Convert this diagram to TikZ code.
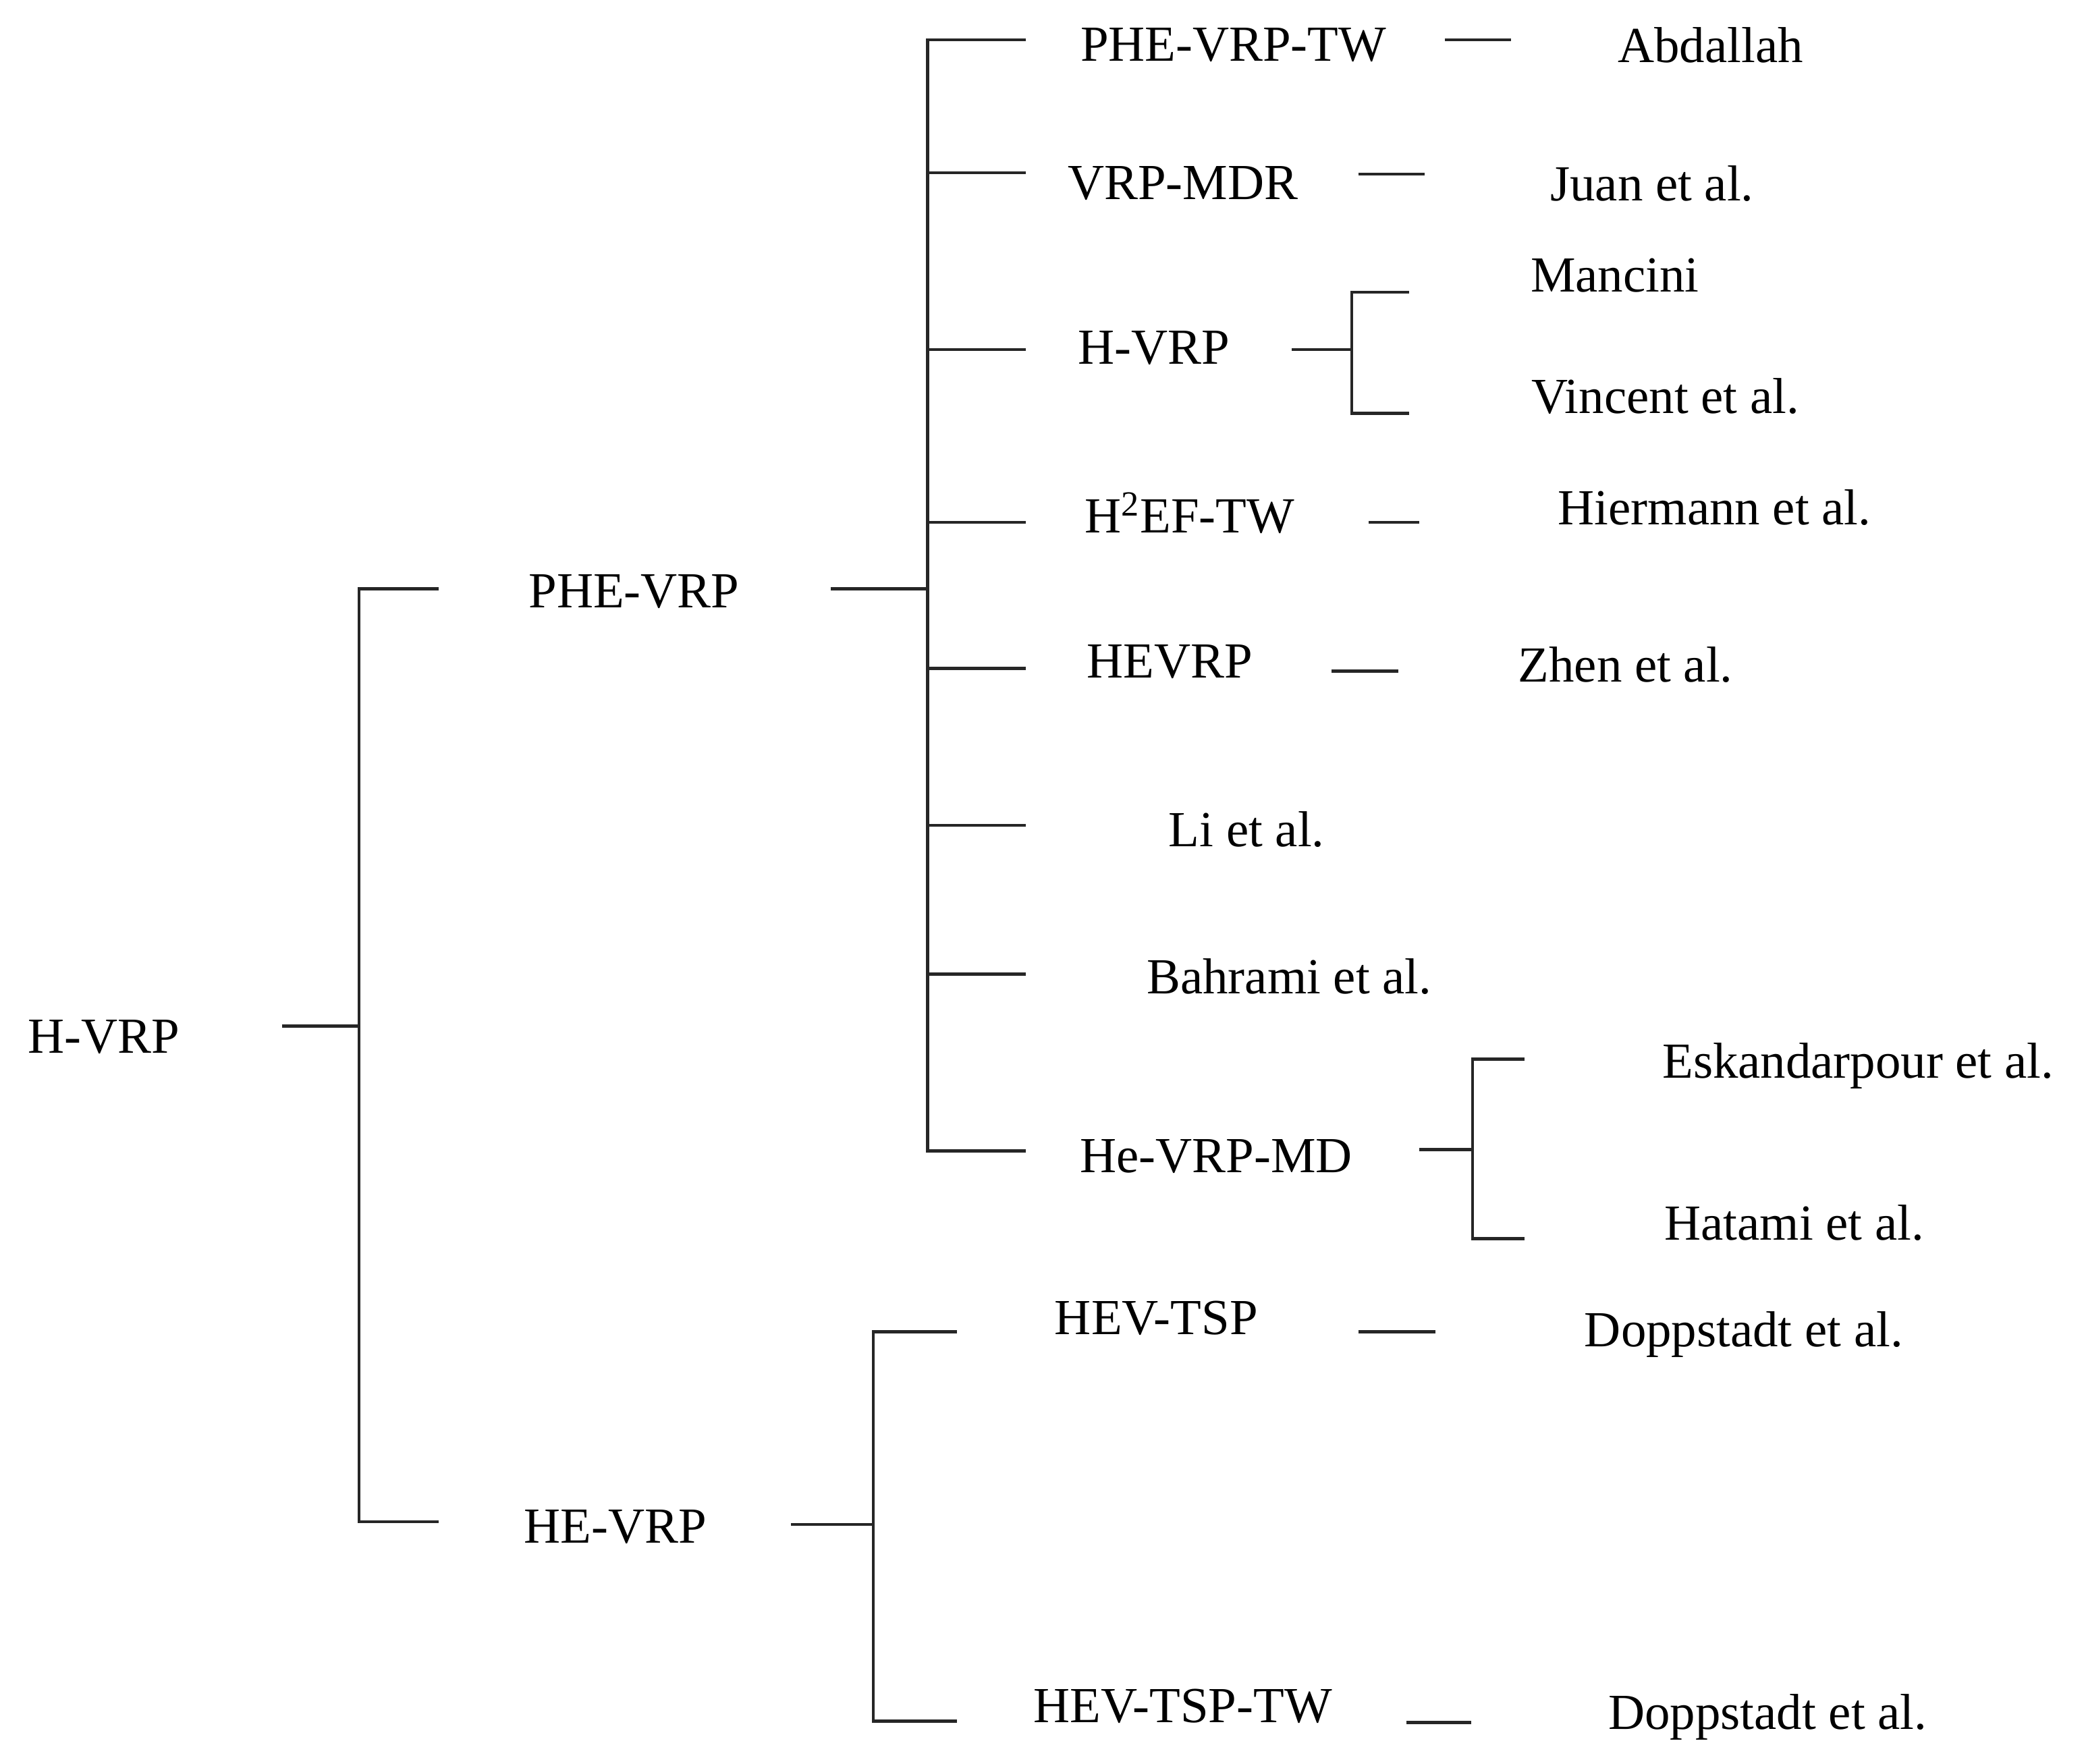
\documentclass[tikz,border=0pt]{standalone}
\usepackage{fontspec}
\setmainfont{Liberation Serif}
\begin{document}
\begin{tikzpicture}[x=0.5pt,y=-0.5pt,
  lbl/.style={font=\fontsize{19}{22}\selectfont,inner sep=0pt},
  ln/.style={line width=1.1pt,black!85}]
\useasboundingbox (0,0) rectangle (1568,1327);
% labels
\node[lbl] (root) at (78,780) {H-VRP};
\node[lbl] (phe) at (477,445) {PHE-VRP};
\node[lbl] (he) at (463,1149) {HE-VRP};
\node[lbl] (a1) at (928,34) {PHE-VRP-TW};
\node[lbl] (a2) at (890,138) {VRP-MDR};
\node[lbl] (a3) at (868,262) {H-VRP};
\node[lbl] (a4) at (895,386) {H\textsuperscript{2}EF-TW};
\node[lbl] (a5) at (880,498) {HEVRP};
\node[lbl] (a6) at (938,624) {Li et al.};
\node[lbl] (a7) at (970,735) {Bahrami et al.};
\node[lbl] (a8) at (915,870) {He-VRP-MD};
\node[lbl] (b1) at (1287,34) {Abdallah};
\node[lbl] (b2) at (1243,138) {Juan et al.};
\node[lbl] (b3) at (1215,207) {Mancini};
\node[lbl] (b4) at (1253,298) {Vincent et al.};
\node[lbl] (b5) at (1290,382) {Hiermann et al.};
\node[lbl] (b6) at (1223,500) {Zhen et al.};
\node[lbl] (b7) at (1398,802) {Eskandarpour et al.};
\node[lbl] (b8) at (1350,920) {Hatami et al.};
\node[lbl] (c1) at (870,992) {HEV-TSP};
\node[lbl] (c2) at (890,1284) {HEV-TSP-TW};
\node[lbl] (d1) at (1312,1004) {Doppstadt et al.};
\node[lbl] (d2) at (1330,1292) {Doppstadt et al.};
% root bracket
\draw[ln] (212,772) -- (270,772);
\draw[ln] (330,443) -- (270,443) -- (270,1145) -- (330,1145);
% PHE-VRP bracket
\draw[ln] (625,443) -- (698,443);
\draw[ln] (772,30) -- (698,30) -- (698,866) -- (772,866);
\foreach \y in {130,263,393,503,621,733} \draw[ln] (698,\y) -- (772,\y);
% dashes
\draw[ln] (1087,30) -- (1137,30);
\draw[ln] (1022,131) -- (1072,131);
\draw[ln] (1030,393) -- (1068,393);
\draw[ln] (1002,505) -- (1052,505);
% H-VRP sub bracket
\draw[ln] (972,263) -- (1017,263);
\draw[ln] (1060,220) -- (1017,220) -- (1017,311) -- (1060,311);
% He-VRP-MD sub bracket
\draw[ln] (1068,865) -- (1108,865);
\draw[ln] (1147,797) -- (1108,797) -- (1108,932) -- (1147,932);
% HE-VRP bracket
\draw[ln] (595,1147) -- (657,1147);
\draw[ln] (720,1002) -- (657,1002) -- (657,1295) -- (720,1295);
\draw[ln] (1022,1002) -- (1080,1002);
\draw[ln] (1058,1296) -- (1107,1296);
\end{tikzpicture}
\end{document}
